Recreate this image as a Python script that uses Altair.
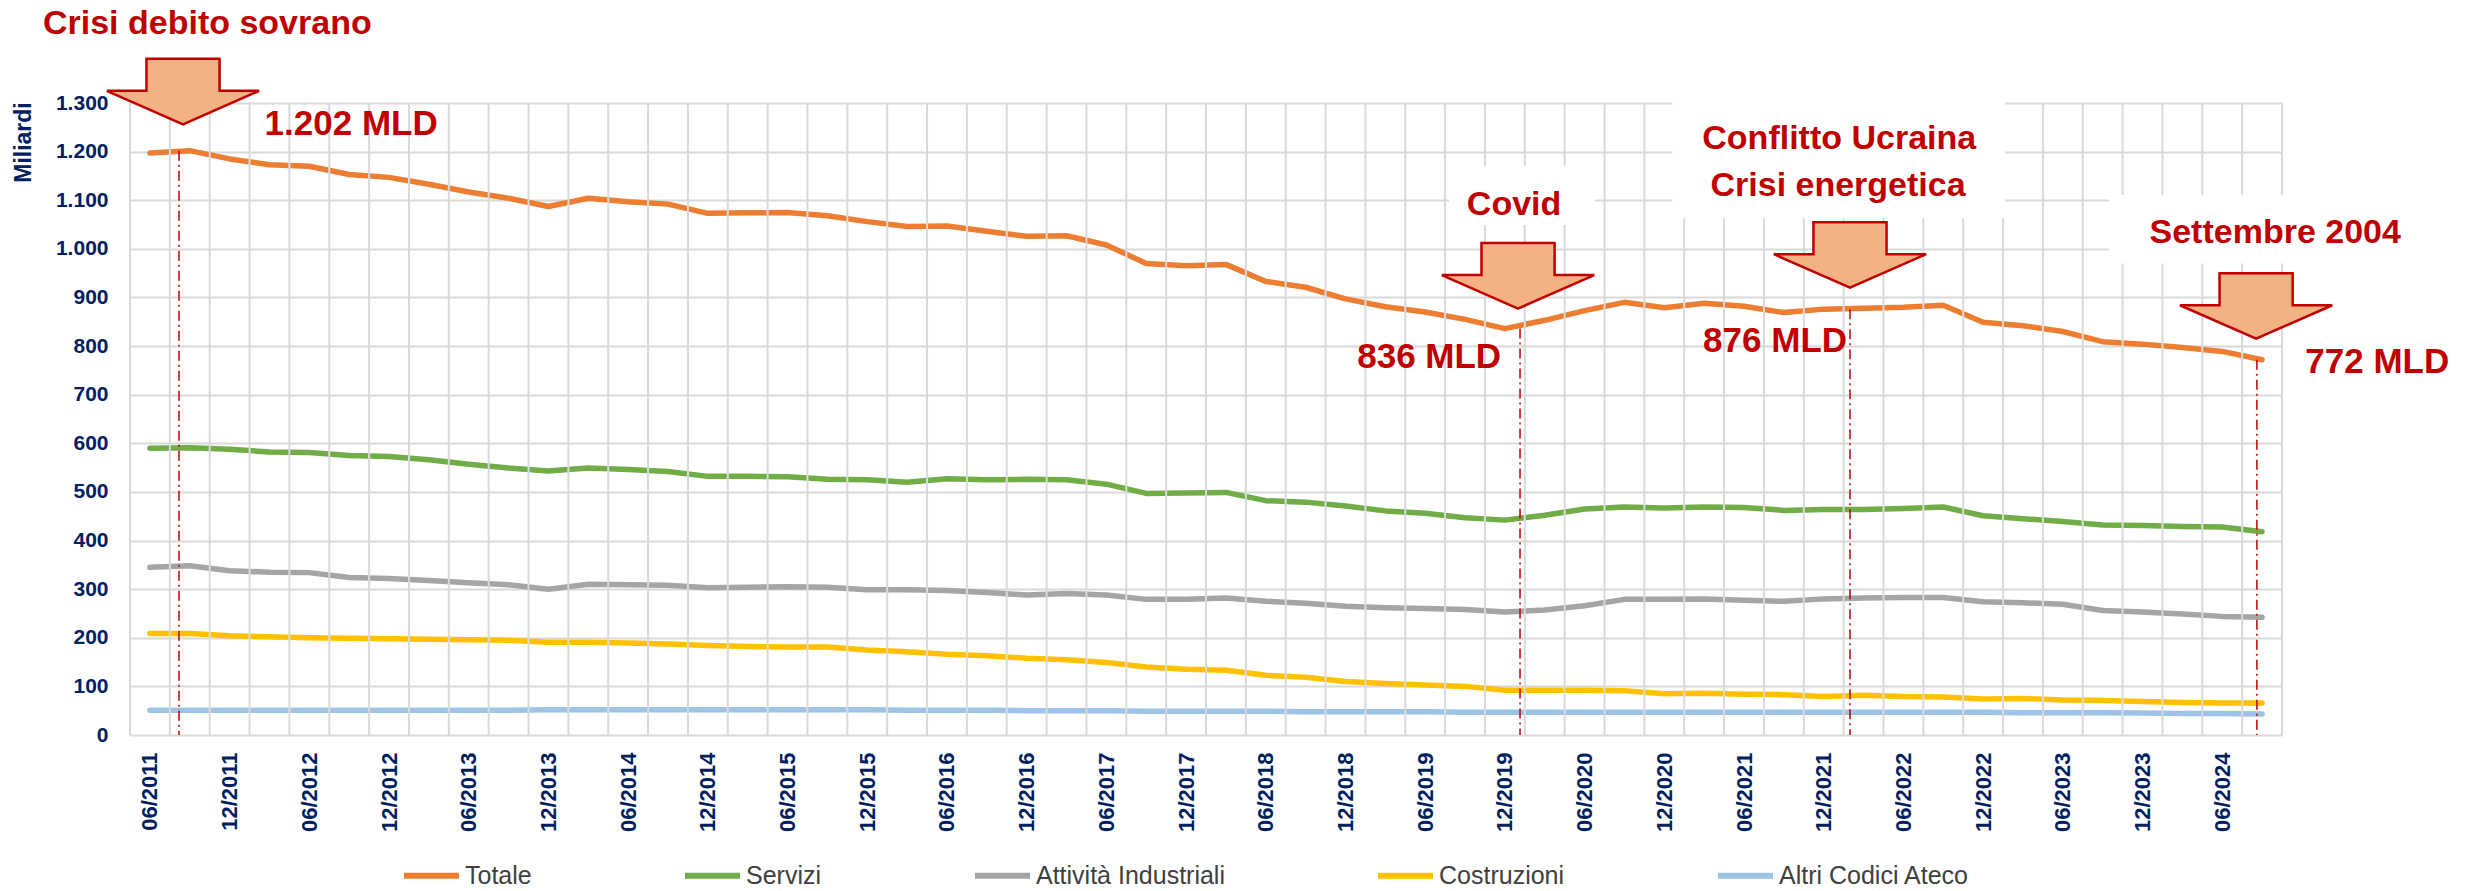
import json
import altair as alt
import pandas as pd

# ---------------- data ----------------
series_names = ["Totale", "Servizi", "Attività Industriali", "Costruzioni", "Altri Codici Ateco"]
series_colors = ["#ED7D31", "#70AD47", "#A5A5A5", "#FFC000", "#9DC3E6"]

# quarterly observations, 06/2011 ... 09/2024 (54 quarters)
totale = [1197, 1202, 1185, 1173, 1170, 1153, 1147, 1133, 1117, 1104,
          1087, 1104, 1097, 1092, 1073, 1074, 1075, 1068, 1056, 1046,
          1047, 1036, 1026, 1027, 1008, 970, 965, 968, 933, 921,
          897, 881, 870, 855, 836, 853, 873, 890, 879, 888,
          882, 869, 876, 878, 880, 884, 849, 842, 830, 809,
          804, 797, 789, 772]
servizi = [590, 591, 588, 582, 581, 575, 573, 566, 557, 549,
           543, 549, 546, 542, 532, 532, 531, 526, 525, 520,
           527, 525, 526, 525, 516, 497, 498, 499, 482, 479,
           471, 461, 456, 447, 442, 452, 465, 469, 467, 469,
           468, 462, 464, 464, 466, 469, 451, 445, 439, 432,
           431, 429, 428, 418]
industriali = [345, 348, 338, 335, 334, 324, 322, 318, 313, 309,
               300, 310, 309, 308, 303, 304, 305, 304, 299, 299,
               297, 293, 288, 291, 288, 279, 279, 282, 275, 271,
               265, 262, 260, 258, 253, 257, 266, 279, 279, 280,
               277, 275, 280, 282, 283, 283, 274, 272, 269, 256,
               253, 249, 244, 242]
costruzioni = [209, 209, 204, 202, 200, 199, 198, 197, 196, 195,
               191, 191, 189, 187, 184, 182, 181, 181, 175, 171,
               166, 163, 158, 155, 149, 140, 135, 133, 123, 119,
               110, 106, 103, 100, 92, 92, 92, 91, 85, 86,
               84, 83, 79, 82, 79, 78, 74, 75, 72, 71,
               69, 67, 66, 66]
altri = [51, 51, 51, 51, 51, 51, 51, 51, 51, 51,
         52, 52, 52, 52, 52, 52, 52, 52, 52, 51,
         51, 51, 50, 50, 50, 49, 49, 49, 49, 48,
         48, 48, 48, 47, 47, 47, 47, 47, 47, 47,
         47, 47, 47, 47, 47, 47, 47, 46, 46, 46,
         45, 44, 44, 43]

# x tick labels (every second quarter)
tick_labels = ["06/2011", "12/2011", "06/2012", "12/2012", "06/2013", "12/2013",
               "06/2014", "12/2014", "06/2015", "12/2015", "06/2016", "12/2016",
               "06/2017", "12/2017", "06/2018", "12/2018", "06/2019", "12/2019",
               "06/2020", "12/2020", "06/2021", "12/2021", "06/2022", "12/2022",
               "06/2023", "12/2023", "06/2024"]

y_ticks = list(range(0, 1301, 50))

# events
event_names = ["Crisi debito sovrano", "Covid", "Conflitto Ucraina", "Crisi energetica", "Settembre 2004"]
event_values = [1202, 836, 876, 772]  # Totale value highlighted for each event (MLD)

# ---------------- tables ----------------
values_all = [totale, servizi, industriali, costruzioni, altri]
n = len(totale)
rows = []
for name, vals in zip(series_names, values_all):
    for i, v in enumerate(vals):
        rows.append({"serie": name, "t": i, "v": v})
df = pd.DataFrame(rows)

grid_df = pd.DataFrame({"g": [k - 0.5 for k in range(n + 1)]})

# annotation layout (in data units: quarter index / miliardi)
ev_text_df = pd.DataFrame({
    "txt": event_names,
    "x": [1.44, 34.23, 42.39, 42.36, 53.33],
    "y": [1441, 1069, 1206, 1108, 1013],
})
val_text_df = pd.DataFrame({
    "txt": [f"{v:,}".replace(",", ".") + " MLD" for v in event_values],
    "x": [5.05, 32.1, 40.78, 55.89],
    "y": [1234, 754, 788, 745],
})
arrow_df = pd.DataFrame({"x": [0.83, 34.33, 42.66, 52.85], "y": [1325, 946, 989, 884]})
dash_df = pd.DataFrame({"x": [0.73, 34.38, 42.66, 52.87], "y": event_values})
box_df = pd.DataFrame({
    "x1": [32.6, 38.2, 49.16], "x2": [36.26, 46.55, 54.6],
    "y1": [1170, 1305, 1111], "y2": [1049, 1063, 970],
})

# ---------------- chart ----------------
FONT = "Liberation Sans"
NAVY = "#002060"
RED = "#C00000"
GRID = "#D9D9D9"

xs = alt.Scale(domain=[-0.5, n - 0.5], nice=False, zero=False)
ys = alt.Scale(domain=[0, 1300], nice=False)

x_axis = alt.Axis(
    values=list(range(0, n, 2)),
    labelExpr=json.dumps(tick_labels) + "[datum.value / 2]",
    labelAngle=270, labelAlign="right", labelBaseline="middle",
    labelFont=FONT, labelFontWeight="bold", labelFontSize=22, labelColor=NAVY,
    labelPadding=17, labelFlush=False, labelOverlap=False,
    ticks=False, domain=False, grid=False, title=None,
)
y_axis = alt.Axis(
    values=y_ticks,
    labelExpr="replace(format(datum.value, ','), ',', '.')",
    labelFont=FONT, labelFontWeight="bold", labelFontSize=21, labelColor=NAVY,
    labelPadding=22, ticks=False, domain=False,
    grid=True, gridColor=GRID, gridWidth=2,
    title="Miliardi", titleFont=FONT, titleFontWeight="bold", titleFontSize=23,
    titleColor=NAVY, titleAngle=270, titleAlign="center", titleBaseline="middle",
    titleX=-107, titleY=39,
)

vgrid = alt.Chart(grid_df).mark_rule(color=GRID, strokeWidth=2).encode(
    x=alt.X("g:Q", scale=xs)
)

boxes = alt.Chart(box_df).mark_rect(fill="white").encode(
    x=alt.X("x1:Q", scale=xs), x2="x2:Q",
    y=alt.Y("y1:Q", scale=ys), y2="y2:Q",
)

lines = alt.Chart(df).mark_line(strokeWidth=5.5, strokeJoin="round", strokeCap="round").encode(
    x=alt.X("t:Q", scale=xs, axis=x_axis),
    y=alt.Y("v:Q", scale=ys, axis=y_axis),
    color=alt.Color(
        "serie:N",
        scale=alt.Scale(domain=series_names, range=series_colors),
        legend=alt.Legend(
            orient="none", legendX=271, legendY=742, direction="horizontal",
            title=None, symbolType="stroke", symbolSize=3025, symbolStrokeWidth=6,
            labelFont=FONT, labelFontSize=25, labelColor="#404040", labelOffset=3,
            columnPadding=141, padding=0, labelLimit=400,
        ),
    ),
    order="t:Q",
)

dashes = alt.Chart(dash_df).mark_rule(color=RED, strokeWidth=1.5, strokeDash=[10, 4, 2, 4]).encode(
    x=alt.X("x:Q", scale=xs),
    y=alt.Y("y:Q", scale=ys),
    y2=alt.datum(0),
)

ARROW = "M-0.48,-0.42 L0.48,-0.42 L0.48,0 L1,0 L0,0.44 L-1,0 L-0.48,0 Z"
arrows = alt.Chart(arrow_df).mark_point(
    shape=ARROW, size=23200, filled=True, fill="#F4B183", stroke=RED,
    strokeWidth=2.5, opacity=1, strokeJoin="miter",
).encode(
    x=alt.X("x:Q", scale=xs),
    y=alt.Y("y:Q", scale=ys),
)

ev_text = alt.Chart(ev_text_df).mark_text(
    font=FONT, fontWeight="bold", fontSize=34, color=RED, align="center", baseline="alphabetic"
).encode(
    x=alt.X("x:Q", scale=xs),
    y=alt.Y("y:Q", scale=ys),
    text="txt:N",
)
val_text = alt.Chart(val_text_df).mark_text(
    font=FONT, fontWeight="bold", fontSize=35, color=RED, align="center", baseline="alphabetic"
).encode(
    x=alt.X("x:Q", scale=xs),
    y=alt.Y("y:Q", scale=ys),
    text="txt:N",
)

chart = alt.layer(lines, vgrid, boxes, dashes, arrows, ev_text, val_text).properties(
    width=2152, height=632,
    autosize=alt.AutoSizeParams(type="none"),
    padding={"left": 122, "top": 95, "right": 181, "bottom": 156},
).configure_view(stroke=None).configure(background="white")

chart.save("out.html", embed_options={"renderer": "svg", "actions": False})
